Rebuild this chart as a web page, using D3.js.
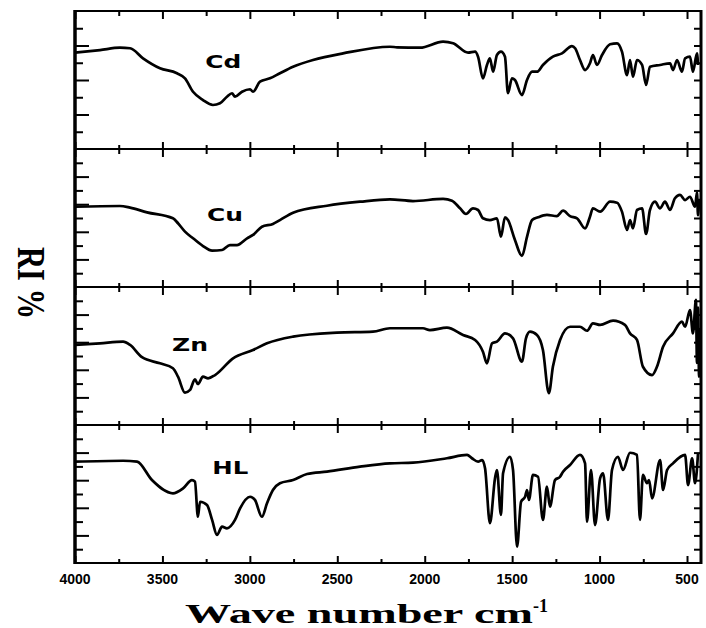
<!DOCTYPE html>
<html>
<head>
<meta charset="utf-8">
<script src="https://cdn.jsdelivr.net/npm/d3@7"></script>
<style>
  body { margin: 0; background: #fff; }
  svg { display: block; }
</style>
</head>
<body>
<svg id="chart" width="706" height="628"></svg>
<script>
// samples, top to bottom
var samples = ["Cd", "Cu", "Zn", "HL"];

// spectra: wavenumber (cm-1) and relative intensity (% of panel)
var cdWave = [4000,3857,3743,3685,3611,3514,3417,3371,3325,3268,3211,3171,3131,3102,3085,3045,2999,2982,2942,2885,2828,2753,2639,2467,2199,2158,2027,1895,1838,1752,1712,1695,1667,1644,1627,1609,1587,1564,1541,1524,1501,1484,1444,1415,1386,1358,1324,1267,1215,1158,1140,1112,1083,1055,1038,1015,986,940,900,872,843,826,809,786,757,734,712,654,597,580,557,529,511,483,466,443,437];
var cdRI = [69.8,71.7,73.4,73.0,65.7,58.5,54.9,51.2,41.5,35.5,31.9,33.1,37.9,40.4,37.9,41.5,43.3,41.5,48.8,51.2,54.9,59.6,64.5,69.3,74.1,73.7,73.4,77.8,76.6,69.8,70.5,66.9,51.2,60.9,65.7,56.0,68.1,70.5,66.9,40.4,51.2,50.0,39.1,50.0,56.0,56.0,60.9,66.9,69.3,74.6,73.0,64.5,57.2,62.1,68.1,60.9,68.1,75.9,76.6,70.5,53.6,64.5,52.4,64.5,60.9,46.4,59.6,60.9,62.1,57.2,64.5,56.0,65.7,66.9,56.0,69.3,60.9];

var cuWave = [4000,3743,3685,3588,3440,3411,3371,3325,3268,3216,3159,3114,3074,3016,2982,2931,2868,2828,2753,2559,2370,2199,2067,1895,1844,1798,1764,1724,1695,1667,1627,1587,1564,1541,1524,1484,1444,1415,1386,1352,1301,1244,1209,1169,1129,1083,1055,1038,997,940,900,872,843,826,809,786,757,734,712,683,654,626,597,569,540,511,483,454,443,437,431];
var cuRI = [58.2,58.7,57.5,54.1,49.8,46.2,40.1,35.3,29.7,26.3,26.8,30.4,30.4,35.3,37.7,43.7,45.7,48.5,53.8,58.9,61.8,63.5,62.3,63.8,62.5,57.0,52.9,57.0,55.8,49.8,48.5,49.8,36.4,50.5,48.5,34.1,22.5,36.4,48.5,50.5,52.2,51.4,55.3,51.4,49.8,42.5,50.9,57.0,54.6,61.8,61.1,54.6,41.3,48.5,42.5,55.8,57.0,38.4,55.8,61.8,57.0,61.8,55.8,64.3,66.7,63.0,65.4,58.2,68.5,52.0,64.0];

var znWave = [4000,3857,3725,3685,3617,3514,3440,3411,3371,3342,3314,3297,3268,3239,3199,3096,2982,2902,2753,2502,2296,2199,2010,1970,1873,1781,1712,1667,1644,1615,1587,1541,1495,1444,1421,1398,1358,1324,1290,1267,1226,1169,1112,1072,1038,997,923,855,826,786,752,700,672,637,580,529,511,483,466,449,443,437,431,426];
var znRI = [58.0,59.2,60.4,58.0,49.1,44.7,41.1,35.0,23.4,25.4,33.1,29.7,35.0,33.8,36.2,48.3,54.3,59.2,64.0,66.9,67.6,70.1,70.1,68.8,70.5,65.2,61.6,53.1,44.7,59.2,60.4,66.4,62.8,45.9,62.8,67.6,65.2,54.3,23.0,42.2,61.6,71.2,71.2,68.3,73.7,72.5,75.6,72.5,66.4,61.6,42.2,36.2,42.2,56.7,66.4,74.9,71.2,83.3,66.4,90.6,45.0,85.0,35.0,70.0];

var hlWave = [4000,3725,3645,3560,3440,3382,3331,3314,3297,3285,3245,3216,3188,3159,3131,3085,3056,2999,2971,2931,2902,2868,2828,2753,2673,2559,2370,2199,2067,1873,1758,1730,1695,1672,1655,1627,1598,1587,1564,1552,1512,1495,1472,1449,1426,1415,1404,1381,1352,1324,1301,1284,1255,1226,1209,1169,1112,1083,1072,1049,1026,997,980,952,929,895,866,826,786,769,752,729,717,700,654,637,614,580,511,494,471,454,437];
var hlRI = [73.4,74.1,73.4,60.1,50.5,54.1,60.1,58.9,33.5,44.4,42.0,31.2,20.3,26.3,25.1,31.2,39.6,48.0,45.7,33.5,43.3,52.9,57.8,60.1,64.5,66.2,69.8,72.2,72.7,75.9,78.3,75.9,73.4,74.6,68.6,28.8,61.4,67.4,34.8,65.0,77.0,67.4,11.8,44.4,48.0,52.9,45.7,63.8,62.5,31.2,55.3,40.8,60.1,62.5,66.2,71.0,78.3,72.2,29.9,67.4,27.5,61.4,65.0,31.2,67.4,77.0,67.4,79.9,78.3,31.2,63.8,57.8,60.1,46.9,74.6,52.9,67.4,72.2,78.3,56.5,75.9,57.8,79.5];

// where each sample name sits (wavenumber, RI)
var labelWave = [3255, 3245, 3445, 3215];
var labelRI = [58.7, 48.0, 53.8, 64.3];

var xTicks = [4000, 3500, 3000, 2500, 2000, 1500, 1000, 500];
var xMinorTicks = [3750, 3250, 2750, 2250, 1750, 1250, 750];

var waves = [cdWave, cuWave, znWave, hlWave];
var ris = [cdRI, cuRI, znRI, hlRI];

var plotLeft = 75, plotRight = 701, plotTop = 11, panelH = 138;

var svg = d3.select("#chart");

var x = d3.scaleLinear().domain([4000, 420]).range([plotLeft, plotRight]);

samples.forEach(function(name, i) {
  var y0 = plotTop + i * panelH;
  var y = d3.scaleLinear().domain([0, 100]).range([y0 + panelH, y0]);
  var g = svg.append("g");

  var pts = waves[i].map(function(w, j) { return [w, ris[i][j]]; });
  var line = d3.line()
    .x(function(d) { return x(d[0]); })
    .y(function(d) { return y(d[1]); })
    .curve(d3.curveMonotoneX);

  g.append("path")
    .datum(pts)
    .attr("d", line)
    .attr("fill", "none")
    .attr("stroke", "#000")
    .attr("stroke-width", 2.7)
    .attr("stroke-linejoin", "round");

  g.append("text")
    .attr("x", x(labelWave[i]))
    .attr("y", y(labelRI[i]))
    .attr("font-family", "'DejaVu Sans', sans-serif")
    .attr("font-weight", "bold")
    .attr("font-size", 18)
    .attr("textLength", 36)
    .attr("lengthAdjust", "spacingAndGlyphs")
    .text(name);

  // ticks, all pointing inward
  function tickAxis(axis, tv, size, tr) {
    var a = g.append("g").attr("transform", tr)
      .call(axis.tickValues(tv).tickSize(size).tickFormat(""));
    a.select(".domain").remove();
    a.selectAll(".tick line").attr("stroke", "#000").attr("stroke-width", 2);
    return a;
  }
  tickAxis(d3.axisBottom(x), xTicks, -7, "translate(0," + (y0 + panelH) + ")");
  tickAxis(d3.axisBottom(x), xMinorTicks, -4, "translate(0," + (y0 + panelH) + ")");
  tickAxis(d3.axisTop(x), xTicks, -8, "translate(0," + y0 + ")");
  tickAxis(d3.axisTop(x), xMinorTicks, -5, "translate(0," + y0 + ")");

  var step = i === 0 ? 12.5 : 10;
  var majorStep = i === 0 ? 25 : 20;
  var yt = d3.range(step, 100 - 0.01, step);
  var yMajor = yt.filter(function(v) { return Math.abs(v / majorStep - Math.round(v / majorStep)) < 1e-6; });
  var yMinor = yt.filter(function(v) { return yMajor.indexOf(v) < 0; });
  tickAxis(d3.axisLeft(y), yMajor, -14, "translate(" + plotLeft + ",0)");
  tickAxis(d3.axisLeft(y), yMinor, -8, "translate(" + plotLeft + ",0)");
  tickAxis(d3.axisRight(y), yt, -7, "translate(" + plotRight + ",0)");

  g.append("rect")
    .attr("x", plotLeft).attr("y", y0)
    .attr("width", plotRight - plotLeft).attr("height", panelH)
    .attr("fill", "none").attr("stroke", "#000").attr("stroke-width", 2);

  if (i === samples.length - 1) {
    g.selectAll(".xlab")
      .data(xTicks)
      .enter().append("text")
      .attr("x", function(d) { return x(d); })
      .attr("y", y0 + panelH + 21)
      .attr("text-anchor", "middle")
      .attr("font-family", "'Liberation Sans', Arial, sans-serif")
      .attr("font-weight", "bold")
      .attr("font-size", 14)
      .text(function(d) { return d; });
  }
});

// heavier outer frame left and right
svg.append("line").attr("x1", plotLeft).attr("x2", plotLeft)
  .attr("y1", plotTop - 1).attr("y2", plotTop + 4 * panelH + 1)
  .attr("stroke", "#000").attr("stroke-width", 3.5);
svg.append("line").attr("x1", plotRight).attr("x2", plotRight)
  .attr("y1", plotTop - 1).attr("y2", plotTop + 4 * panelH + 1)
  .attr("stroke", "#000").attr("stroke-width", 3);

// axis titles
svg.append("text")
  .attr("x", 185).attr("y", 623)
  .attr("font-family", "'Liberation Serif', 'Times New Roman', serif")
  .attr("font-weight", "bold")
  .attr("font-size", 28)
  .attr("textLength", 348)
  .attr("lengthAdjust", "spacingAndGlyphs")
  .text("Wave number cm");
svg.append("text")
  .attr("x", 533).attr("y", 612)
  .attr("font-family", "'Liberation Serif', 'Times New Roman', serif")
  .attr("font-weight", "bold")
  .attr("font-size", 18)
  .text("-1");

svg.append("text")
  .attr("transform", "translate(18,283) rotate(90)")
  .attr("text-anchor", "middle")
  .attr("font-family", "'Liberation Serif', 'Times New Roman', serif")
  .attr("font-weight", "bold")
  .attr("font-size", 40)
  .attr("textLength", 72)
  .attr("lengthAdjust", "spacingAndGlyphs")
  .text("RI %");
</script>
</body>
</html>
